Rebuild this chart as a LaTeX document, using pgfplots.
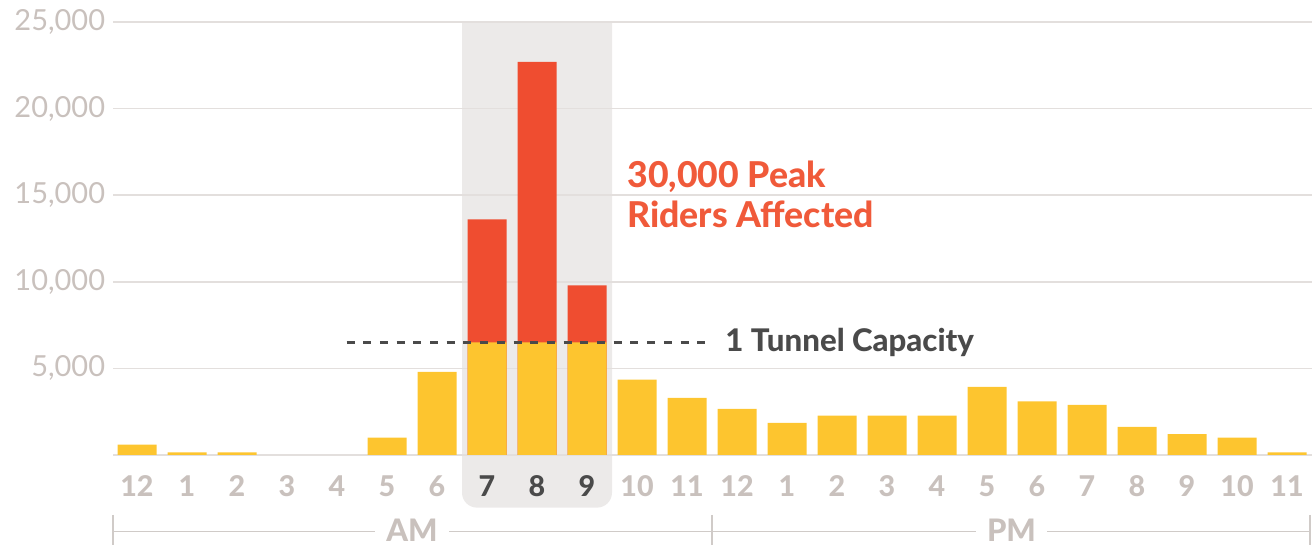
\documentclass[border=0pt]{standalone}
\usepackage{fontspec}
\setmainfont{Lato}
\newfontfamily\heavy{Lato Heavy}
\usepackage{pgfplots}
\pgfplotsset{compat=1.18}
\definecolor{baryellow}{HTML}{FDC52F}
\definecolor{barred}{HTML}{EF4D30}
\definecolor{boxgray}{HTML}{ECEAE9}
\definecolor{gridgray}{HTML}{E3DFDD}
\definecolor{labgray}{HTML}{C9C1BD}
\definecolor{darklab}{HTML}{4A4A4A}
\definecolor{redtext}{HTML}{F05A3A}
\definecolor{brackgray}{HTML}{D0CBC8}
\begin{document}
\begin{tikzpicture}
\begin{axis}[
  set layers,
  scale only axis,
  width=599.5pt, height=216.5pt,
  xmin=-0.48, xmax=23.5, ymin=0, ymax=25000,
  clip=false,
  scaled y ticks=false,
  axis line style={draw=none},
  tick style={draw=none},
  /pgf/number format/assume math mode=true,
  ytick={0,5000,10000,15000,20000,25000},
  yticklabels={,{5,000},{10,000},{15,000},{20,000},{25,000}},
  ymajorgrids,
  grid style={gridgray, line width=0.8pt},
  yticklabel style={font=\fontsize{14.5}{15}\selectfont, text=labgray, xshift=-0.4pt},
  xtick={0,...,23},
  xticklabels={12,1,2,3,4,5,6,\textcolor{darklab}{7},\textcolor{darklab}{8},\textcolor{darklab}{9},10,11,12,1,2,3,4,5,6,7,8,9,10,11},
  xticklabel style={font=\fontsize{14.3}{14}\selectfont\heavy, text=labgray, anchor=base, yshift=-21pt},
]
\begin{pgfonlayer}{axis background}
\fill[boxgray] (axis cs:6.5,24960) [rounded corners=7.5pt] -- (axis cs:6.5,-3040) -- (axis cs:9.5,-3040) [sharp corners] -- (axis cs:9.5,24960) -- cycle;
\end{pgfonlayer}

\addplot[ybar, bar width=0.78, bar shift=0pt, fill=barred, draw=none]
  coordinates {(7,13600) (8,22700) (9,9800)};
\addplot[ybar, bar width=0.78, bar shift=0pt, fill=baryellow, draw=none]
  coordinates {(0,600) (1,150) (2,150) (5,1000) (6,4800) (7,6500) (8,6500) (9,6500)
               (10,4350) (11,3300) (12,2670) (13,1850) (14,2270) (15,2270) (16,2270) (17,3940)
               (18,3100) (19,2900) (20,1630) (21,1210) (22,1000) (23,150)};

\draw[darklab, line width=1.35pt, dash pattern=on 4pt off 4.35pt] (axis cs:4.19,6500) -- (axis cs:11.42,6500);

\node[anchor=base west, font=\fontsize{15.6}{15}\selectfont\heavy, text=darklab, inner sep=0pt] at (axis cs:11.76,5964) {1 Tunnel Capacity};
\node[anchor=base west, font=\fontsize{17.8}{17}\selectfont\heavy, text=redtext, inner sep=0pt] at (axis cs:9.8,15470) {30,000 Peak};
\node[anchor=base west, font=\fontsize{17.8}{17}\selectfont\heavy, text=redtext, inner sep=0pt] at (axis cs:9.8,13160) {Riders Affected};

\draw[brackgray, line width=0.75pt] (axis cs:-0.48,-4428) -- (axis cs:23.46,-4428);
\draw[brackgray, line width=0.75pt] (axis cs:-0.48,-3464) -- (axis cs:-0.48,-5300);
\draw[brackgray, line width=0.75pt] (axis cs:11.5,-3464) -- (axis cs:11.5,-5300);
\draw[brackgray, line width=0.75pt] (axis cs:23.46,-3464) -- (axis cs:23.46,-5300);
\node[anchor=base, fill=white, inner xsep=5.5pt, inner ysep=0pt, font=\fontsize{15.5}{15}\selectfont\heavy, text=labgray] at (axis cs:5.5,-5006) {AM};
\node[anchor=base, fill=white, inner xsep=5.5pt, inner ysep=0pt, font=\fontsize{15.5}{15}\selectfont\heavy, text=labgray] at (axis cs:17.49,-5006) {PM};
\end{axis}
\pgfresetboundingbox
\path[use as bounding box] ([xshift=-56.5pt,yshift=-45pt]current axis.south west) rectangle ([yshift=11pt]current axis.north east);
\end{tikzpicture}
\end{document}
